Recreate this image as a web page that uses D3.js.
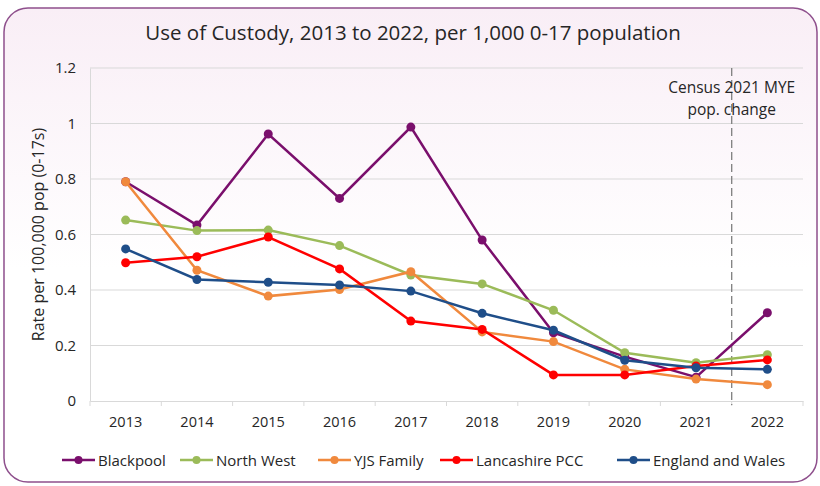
<!DOCTYPE html>
<html lang="en">
<head>
<meta charset="UTF-8" />
<title>Use of Custody</title>
<script src="https://d3js.org/d3.v7.min.js"></script>
<style>
  body { margin: 0; background: #fff; }
  text { font-family: "Open Sans", "Noto Sans", sans-serif; fill: #262626; }
</style>
</head>
<body>
<script>
// data
var years = ["2013", "2014", "2015", "2016", "2017", "2018", "2019", "2020", "2021", "2022"];
var blackpool  = [0.79, 0.634, 0.962, 0.73, 0.987, 0.58, 0.246, 0.16, 0.086, 0.318];
var northWest  = [0.652, 0.614, 0.616, 0.56, 0.454, 0.422, 0.327, 0.174, 0.138, 0.167];
var yjsFamily  = [0.79, 0.471, 0.378, 0.402, 0.466, 0.249, 0.214, 0.114, 0.079, 0.059];
var lancashire = [0.498, 0.52, 0.591, 0.476, 0.288, 0.258, 0.094, 0.094, 0.126, 0.148];
var engWales   = [0.548, 0.438, 0.428, 0.418, 0.396, 0.316, 0.255, 0.147, 0.12, 0.114];
var yTicks = [0, 0.2, 0.4, 0.6, 0.8, 1, 1.2];

var series = [
  {name: "Blackpool", values: blackpool, color: "#7a0f6c"},
  {name: "North West", values: northWest, color: "#9bbb59"},
  {name: "YJS Family", values: yjsFamily, color: "#f0893d"},
  {name: "Lancashire PCC", values: lancashire, color: "#ff0000"},
  {name: "England and Wales", values: engWales, color: "#1f4e89"}
];

var width = 820, height = 486;
var margin = {top: 68, right: 17, bottom: 85, left: 90};

var svg = d3.select("body").append("svg")
  .attr("width", width)
  .attr("height", height);

// background with pink tint at the top
var grad = svg.append("defs").append("linearGradient")
  .attr("id", "bg").attr("x1", 0).attr("y1", 0).attr("x2", 0).attr("y2", 1);
grad.append("stop").attr("offset", "0%").attr("stop-color", "#f9eef6");
grad.append("stop").attr("offset", "55%").attr("stop-color", "#ffffff");
grad.append("stop").attr("offset", "100%").attr("stop-color", "#ffffff");

svg.append("rect")
  .attr("x", 4).attr("y", 8)
  .attr("width", 813).attr("height", 474)
  .attr("rx", 24).attr("ry", 24)
  .attr("fill", "url(#bg)")
  .attr("stroke", "#8e4f8c")
  .attr("stroke-width", 1.5);

svg.append("text")
  .attr("x", 413).attr("y", 40)
  .attr("text-anchor", "middle")
  .attr("font-size", 20.5)
  .text("Use of Custody, 2013 to 2022, per 1,000 0-17 population");

var x = d3.scaleBand()
  .domain(years)
  .range([margin.left, width - margin.right]);

var y = d3.scaleLinear()
  .domain([0, 1.2])
  .range([height - margin.bottom, margin.top]);

// gridlines
svg.append("g")
  .selectAll("line")
  .data(yTicks.slice(1))
  .enter().append("line")
  .attr("x1", margin.left).attr("x2", width - margin.right)
  .attr("y1", function(d) { return y(d); })
  .attr("y2", function(d) { return y(d); })
  .attr("stroke", "#d9d9d9").attr("stroke-width", 1);

// y axis
var yAxis = svg.append("g")
  .attr("transform", "translate(" + margin.left + ",0)")
  .call(d3.axisLeft(y).tickValues(yTicks).tickSize(0).tickPadding(14)
    .tickFormat(function(d) { return d3.format("")(d); }));
yAxis.select(".domain").attr("stroke", "#d9d9d9");
yAxis.selectAll("text").attr("font-size", 15).attr("fill", "#262626")
  .style("font-family", "'Open Sans', 'Noto Sans', sans-serif");

// x axis
var xAxis = svg.append("g")
  .attr("transform", "translate(0," + y(0) + ")")
  .call(d3.axisBottom(x).tickSize(0).tickPadding(16));
xAxis.select(".domain").attr("stroke", "#d9d9d9");
xAxis.selectAll("text").attr("font-size", 14.5).attr("fill", "#262626")
  .style("font-family", "'Open Sans', 'Noto Sans', sans-serif");
xAxis.selectAll(".bnd")
  .data(d3.range(years.length + 1))
  .enter().append("line")
  .attr("x1", function(i) { return margin.left + i * x.step(); })
  .attr("x2", function(i) { return margin.left + i * x.step(); })
  .attr("y1", 0).attr("y2", 5)
  .attr("stroke", "#d9d9d9");

svg.append("text")
  .attr("transform", "translate(44," + ((y(0) + y(1.2)) / 2) + ") rotate(-90)")
  .attr("text-anchor", "middle")
  .attr("font-size", 16)
  .text("Rate per 100,000 pop (0-17s)");

// census marker between 2021 and 2022
var cx = (x("2021") + x("2022")) / 2 + x.bandwidth() / 2;
svg.append("line")
  .attr("x1", cx).attr("x2", cx)
  .attr("y1", y(1.2)).attr("y2", y(0) + 4)
  .attr("stroke", "#7f7f7f").attr("stroke-width", 1.3)
  .attr("stroke-dasharray", "8,4");
svg.append("text")
  .attr("x", cx).attr("y", y(1.2) + 25)
  .attr("text-anchor", "middle").attr("font-size", 15.5)
  .text("Census 2021 MYE");
svg.append("text")
  .attr("x", cx).attr("y", y(1.2) + 47)
  .attr("text-anchor", "middle").attr("font-size", 15.5)
  .text("pop. change");

var line = d3.line()
  .x(function(d, i) { return x(years[i]) + x.bandwidth() / 2; })
  .y(function(d) { return y(d); });

series.forEach(function(s) {
  var g = svg.append("g");
  g.append("path")
    .attr("d", line(s.values))
    .attr("fill", "none")
    .attr("stroke", s.color)
    .attr("stroke-width", 2.5);
  g.selectAll("circle")
    .data(s.values)
    .enter().append("circle")
    .attr("cx", function(d, i) { return x(years[i]) + x.bandwidth() / 2; })
    .attr("cy", function(d) { return y(d); })
    .attr("r", 4.5)
    .attr("fill", s.color);
});

// legend
var legendX = [62, 180, 318, 440, 617];
var legend = svg.append("g");
series.forEach(function(s, i) {
  var lg = legend.append("g").attr("transform", "translate(" + legendX[i] + ",460)");
  lg.append("line").attr("x1", 0).attr("x2", 33).attr("y1", 0).attr("y2", 0)
    .attr("stroke", s.color).attr("stroke-width", 2.5);
  lg.append("circle").attr("cx", 16.5).attr("cy", 0).attr("r", 4).attr("fill", s.color);
  lg.append("text").attr("x", 36).attr("y", 5.5).attr("font-size", 15).text(s.name);
});
</script>
</body>
</html>
